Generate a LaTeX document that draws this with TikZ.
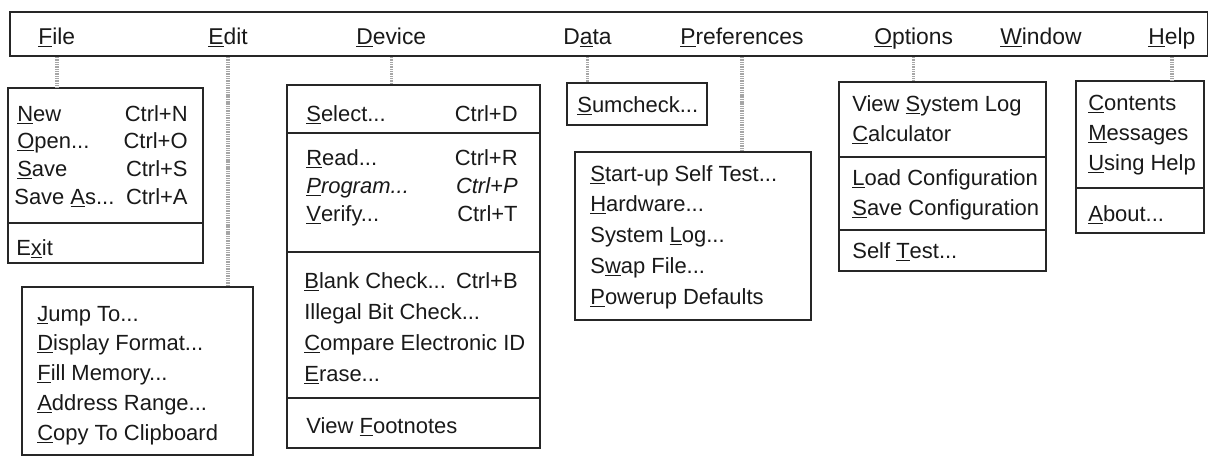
\documentclass[tikz,border=0pt]{standalone}
\usepackage{fontspec}
\setmainfont{Liberation Sans}
\usetikzlibrary{positioning,fit}
\newcommand{\hk}[1]{\underline{#1}}
\tikzset {
    style Bar/.style={
        draw=black!85,
        line width=0.9pt,
        rectangle, % Set the shape as a rectangle
        inner sep=0pt,
    },
    style Box/.style={
        draw=black!85,
        line width=0.8pt,
        rectangle, % Set the shape as a rectangle
        inner sep=0pt,
    },
    style Title/.style={
        anchor=base west,
        inner sep=0pt,
        font=\fontsize{13}{15}\selectfont,
    },
    style Item/.style={
        anchor=base west,
        inner sep=0pt,
    },
    style Key/.style={
        anchor=base east,
        inner sep=0pt,
    },
    style Link/.style={
        draw=black!35,
        line width=2pt,
        dash pattern=on 0.6pt off 0.4pt,
    },
    style Sep/.style={
        draw=black!85,
        line width=0.8pt,
    },
}

\begin{document}
\begin{tikzpicture}
        [x=0.02cm, y=-0.02cm, font=\fontsize{12.5}{15}\selectfont, color=black!90]

        \useasboundingbox (0,0) rectangle (1208,457);

        % menu bar
        \node[style Bar, fit={(10,12) (1208,56)}] (bar) {};
        \node[style Title] at (38,44) (file) {\hk{F}ile};
        \node[style Title] at (208,44) (edit) {\hk{E}dit};
        \node[style Title] at (356,44) (device) {\hk{D}evice};
        \node[style Title] at (563,44) (data) {D\hk{a}ta};
        \node[style Title] at (680,44) (prefs) {\hk{P}references};
        \node[style Title] at (874,44) (options) {\hk{O}ptions};
        \node[style Title] at (1000,44) (window) {\hk{W}indow};
        \node[style Title] at (1148,44) (help) {\hk{H}elp};

        % File
        \node[style Box, fit={(8,88) (203,263)}] (filebox) {};
        \node[style Item] at (17,121) (new) {\hk{N}ew};
        \node[style Item] at (17,148) (open) {\hk{O}pen...};
        \node[style Item] at (17,176) (save) {\hk{S}ave};
        \node[style Item] at (14,204) (saveas) {Save \hk{A}s...};
        \node[style Key] at (188,121) (ctrln) {Ctrl+N};
        \node[style Key] at (188,148) (ctrlo) {Ctrl+O};
        \node[style Key] at (188,176) (ctrls) {Ctrl+S};
        \node[style Key] at (188,204) (ctrla) {Ctrl+A};
        \draw[style Sep] (filebox.west |- 0,223) -- (filebox.east |- 0,223);
        \node[style Item] at (16,255) (exit) {E\hk{x}it};

        % Edit
        \node[style Box, fit={(22,287) (253,455)}] (editbox) {};
        \node[style Item] at (37,321) (jump) {\hk{J}ump To...};
        \node[style Item] at (37,350) (display) {\hk{D}isplay Format...};
        \node[style Item] at (37,380) (fill) {\hk{F}ill Memory...};
        \node[style Item] at (37,410) (range) {\hk{A}ddress Range...};
        \node[style Item] at (37,440) (copy) {\hk{C}opy To Clipboard};

        % Device
        \node[style Box, fit={(287,85) (540,448)}] (devicebox) {};
        \node[style Item] at (306,121) (select) {\hk{S}elect...};
        \node[style Key] at (518,121) (ctrld) {Ctrl+D};
        \draw[style Sep] (devicebox.west |- 0,133) -- (devicebox.east |- 0,133);
        \node[style Item] at (306,165) (read) {\hk{R}ead...};
        \node[style Item] at (306,193) (program) {\textit{\hk{P}rogram...}};
        \node[style Item] at (306,221) (verify) {\hk{V}erify...};
        \node[style Key] at (518,165) (ctrlr) {Ctrl+R};
        \node[style Key] at (518,193) (ctrlp) {\textit{Ctrl+P}};
        \node[style Key] at (518,221) (ctrlt) {Ctrl+T};
        \draw[style Sep] (devicebox.west |- 0,252) -- (devicebox.east |- 0,252);
        \node[style Item] at (304,288) (blank) {\hk{B}lank Check...};
        \node[style Key] at (518,288) (ctrlb) {Ctrl+B};
        \node[style Item] at (304,319) (illegal) {Illegal Bit Check...};
        \node[style Item] at (304,350) (compare) {\hk{C}ompare Electronic ID};
        \node[style Item] at (304,381) (erase) {\hk{E}rase...};
        \draw[style Sep] (devicebox.west |- 0,398) -- (devicebox.east |- 0,398);
        \node[style Item] at (306,433) (footnotes) {View \hk{F}ootnotes};

        % Data
        \node[style Box, fit={(567,83) (707,125)}] (databox) {};
        \node[style Item] at (577,112) (sumcheck) {\hk{S}umcheck...};

        % Preferences
        \node[style Box, fit={(575,152) (811,320)}] (prefsbox) {};
        \node[style Item] at (590,181) (startup) {\hk{S}tart-up Self Test...};
        \node[style Item] at (590,211) (hardware) {\hk{H}ardware...};
        \node[style Item] at (590,242) (syslog) {System \hk{L}og...};
        \node[style Item] at (590,273) (swap) {S\hk{w}ap File...};
        \node[style Item] at (590,304) (powerup) {\hk{P}owerup Defaults};

        % Options
        \node[style Box, fit={(839,82) (1046,271)}] (optionsbox) {};
        \node[style Item] at (852,111) (viewlog) {View \hk{S}ystem Log};
        \node[style Item] at (852,141) (calc) {\hk{C}alculator};
        \draw[style Sep] (optionsbox.west |- 0,157) -- (optionsbox.east |- 0,157);
        \node[style Item] at (852,185) (load) {\hk{L}oad Configuration};
        \node[style Item] at (852,215) (saveconf) {\hk{S}ave Configuration};
        \draw[style Sep] (optionsbox.west |- 0,230) -- (optionsbox.east |- 0,230);
        \node[style Item] at (852,258) (selftest) {Self \hk{T}est...};

        % Help
        \node[style Box, fit={(1076,81) (1204,233)}] (helpbox) {};
        \node[style Item] at (1088,110) (contents) {\hk{C}ontents};
        \node[style Item] at (1088,140) (messages) {\hk{M}essages};
        \node[style Item] at (1088,170) (using) {\hk{U}sing Help};
        \draw[style Sep] (helpbox.west |- 0,188) -- (helpbox.east |- 0,188);
        \node[style Item] at (1088,221) (about) {\hk{A}bout...};

        \draw[style Link] (bar.south -| file) -- (filebox.north -| file);
        \draw[style Link] (bar.south -| edit) -- (editbox.north -| edit);
        \draw[style Link] (bar.south -| device) -- (devicebox.north -| device);
        \draw[style Link] (bar.south -| data) -- (databox.north -| data);
        \draw[style Link] (bar.south -| prefs) -- (prefsbox.north -| prefs);
        \draw[style Link] (bar.south -| options) -- (optionsbox.north -| options);
        \draw[style Link] (bar.south -| help) -- (helpbox.north -| help);
    \end{tikzpicture}
\end{document}
